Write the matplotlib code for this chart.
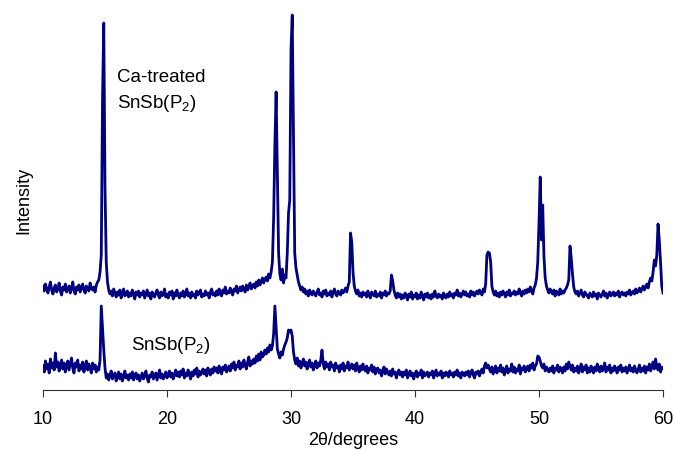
import matplotlib.pyplot as plt
import numpy as np

plt.rcParams['font.family'] = ['Liberation Sans', 'DejaVu Sans']
plt.rcParams['mathtext.fontset'] = 'custom'
plt.rcParams['mathtext.rm'] = 'Liberation Sans'

# 2theta grid, 0.1 deg steps from 10 to 60
two_theta = np.round(np.arange(100, 601) / 10, 1)

# Ca-treated SnSb(P2), intensity (a.u.), one row per degree
ca_treated = [
    104, 99, 106, 101, 97, 103, 108, 100, 96, 102,
    105, 98, 101, 107, 99, 95, 103, 100, 106, 98,
    101, 104, 97, 102, 108, 99, 96, 103, 100, 105,
    98, 102, 106, 100, 97, 104, 101, 99, 107, 102,
    100, 103, 98, 105, 108, 110, 118, 135, 290, 367,
    203, 128, 108, 100, 96, 99, 94, 101, 97, 93,
    98, 95, 100, 92, 97, 101, 94, 96, 99, 93,
    97, 94, 100, 96, 91, 98, 95, 99, 93, 97,
    95, 99, 92, 96, 100, 94, 97, 91, 98, 95,
    93, 97, 100, 95, 92, 98, 94, 96, 101, 93,
    96, 92, 98, 95, 99, 91, 97, 94, 100, 95,
    92, 97, 94, 99, 93, 96, 101, 94, 97, 92,
    98, 94, 96, 92, 99, 95, 97, 100, 93, 96,
    94, 99, 95, 97, 92, 98, 101, 95, 97, 94,
    99, 95, 101, 96, 94, 100, 97, 103, 96, 99,
    97, 102, 98, 95, 101, 99, 104, 97, 100, 103,
    99, 104, 101, 98, 105, 100, 103, 107, 101, 104,
    106, 102, 108, 104, 110, 105, 109, 112, 107, 111,
    113, 109, 116, 112, 118, 128, 172, 245, 298, 218,
    137, 116, 110, 121, 107, 115, 112, 137, 177, 190,
    340, 375, 260, 137, 122, 115, 108, 104, 100, 103,
    98, 101, 96, 99, 94, 100, 97, 95, 99, 96,
    94, 98, 101, 95, 97, 93, 99, 96, 100, 94,
    97, 95, 99, 93, 98, 101, 96, 94, 99, 97,
    95, 100, 97, 99, 102, 98, 104, 108, 157, 148,
    118, 104, 99, 96, 100, 94, 97, 93, 98, 95,
    97, 93, 99, 95, 92, 98, 96, 94, 99, 93,
    96, 94, 98, 92, 97, 95, 99, 94, 97, 96,
    99, 115, 109, 100, 95, 92, 97, 93, 96, 91,
    95, 92, 97, 94, 90, 96, 93, 98, 91, 95,
    93, 97, 91, 95, 92, 98, 94, 90, 96, 93,
    97, 92, 95, 91, 96, 93, 99, 94, 92, 96,
    93, 95, 91, 97, 94, 92, 96, 93, 98, 94,
    96, 92, 97, 95, 100, 94, 97, 93, 96, 99,
    95, 98, 94, 96, 93, 99, 95, 98, 94, 97,
    99, 96, 100, 97, 95, 101, 98, 106, 135, 138,
    137, 128, 104, 98, 95, 99, 94, 97, 93, 98,
    95, 99, 96, 93, 98, 95, 100, 94, 97, 96,
    99, 95, 98, 96, 101, 97, 94, 99, 96, 100,
    97, 101, 98, 103, 99, 96, 102, 105, 112, 128,
    168, 213, 150, 185, 133, 112, 104, 100, 97, 101,
    98, 96, 100, 94, 99, 97, 95, 101, 96, 99,
    97, 100, 102, 105, 110, 144, 132, 116, 103, 98,
    96, 99, 94, 97, 100, 95, 93, 98, 96, 94,
    92, 97, 95, 93, 98, 94, 96, 91, 97, 95,
    93, 96, 99, 94, 97, 92, 95, 98, 94, 96,
    98, 94, 97, 95, 99, 93, 96, 98, 95, 97,
    94, 98, 96, 100, 95, 97, 99, 96, 101, 97,
    99, 102, 98, 101, 104, 100, 103, 106, 102, 108,
    112, 109, 118, 130, 124, 135, 166, 150, 128, 104,
    97,
]

# untreated SnSb(P2)
untreated = [
    24, 18, 29, 21, 26, 17, 31, 22, 27, 20,
    37, 23, 28, 19, 25, 30, 21, 27, 18, 24,
    29, 20, 26, 32, 22, 17, 27, 23, 30, 19,
    25, 21, 28, 18, 24, 29, 20, 26, 22, 17,
    27, 21, 25, 18, 23, 20, 30, 84, 62, 40,
    22, 12, 16, 10, 15, 19, 11, 14, 17, 9,
    14, 18, 11, 16, 9, 13, 19, 12, 15, 10,
    16, 12, 18, 10, 14, 17, 11, 15, 9, 13,
    17, 11, 14, 19, 12, 8, 15, 13, 18, 11,
    14, 17, 10, 15, 20, 12, 16, 11, 14, 18,
    12, 16, 19, 13, 17, 11, 15, 20, 14, 18,
    13, 19, 15, 21, 12, 17, 14, 20, 16, 11,
    18, 14, 20, 16, 22, 13, 19, 15, 17, 21,
    16, 20, 14, 22, 18, 15, 21, 17, 23, 19,
    22, 17, 24, 19, 16, 23, 20, 25, 18, 21,
    24, 19, 26, 22, 28, 20, 25, 23, 29, 21,
    27, 23, 30, 25, 21, 28, 33, 24, 29, 26,
    31, 27, 34, 29, 36, 30, 38, 33, 35, 40,
    36, 42, 38, 45, 40, 44, 56, 84, 62, 41,
    36, 32, 38, 35, 41, 45, 48, 52, 60, 58,
    60, 54, 38, 30, 26, 32, 24, 29, 22, 27,
    31, 24, 28, 21, 26, 30, 23, 27, 20, 25,
    29, 22, 27, 24, 30, 40, 26, 21, 28, 23,
    26, 20, 28, 23, 25, 19, 27, 22, 24, 18,
    25, 21, 27, 19, 24, 22, 28, 20, 23, 26,
    21, 25, 19, 27, 22, 18, 24, 20, 26, 21,
    19, 24, 17, 22, 20, 25, 18, 23, 16, 21,
    22, 17, 20, 14, 19, 23, 16, 21, 18, 15,
    19, 14, 21, 16, 18, 12, 17, 20, 15, 18,
    13, 18, 15, 20, 12, 16, 19, 14, 17, 11,
    16, 19, 13, 17, 15, 20, 12, 18, 14, 16,
    18, 13, 17, 15, 19, 12, 16, 20, 14, 17,
    15, 19, 12, 17, 14, 18, 16, 13, 19, 15,
    17, 13, 18, 15, 20, 14, 17, 12, 18, 16,
    14, 18, 15, 19, 13, 17, 20, 15, 12, 18,
    16, 19, 14, 18, 21, 17, 24, 27, 22, 25,
    21, 18, 23, 16, 20, 24, 17, 22, 19, 25,
    18, 22, 15, 20, 24, 17, 21, 19, 26, 18,
    23, 17, 21, 19, 25, 16, 22, 20, 24, 18,
    21, 24, 19, 25, 22, 27, 20, 24, 26, 34,
    33, 29, 24, 22, 26, 19, 23, 21, 18, 22,
    19, 24, 17, 22, 20, 25, 18, 23, 21, 17,
    23, 19, 26, 21, 28, 24, 20, 25, 18, 22,
    19, 24, 17, 21, 26, 18, 23, 20, 25, 17,
    22, 18, 24, 20, 17, 23, 19, 26, 21, 18,
    24, 19, 22, 27, 18, 23, 20, 25, 17, 22,
    19, 24, 21, 17, 23, 20, 25, 18, 22, 19,
    23, 17, 21, 25, 19, 22, 18, 24, 20, 17,
    21, 25, 18, 22, 19, 24, 17, 23, 20, 26,
    19, 23, 28, 21, 31, 24, 20, 26, 18, 23,
    22,
]

x_ticks = [10, 20, 30, 40, 50, 60]

fig = plt.figure(figsize=(6.74, 4.5), dpi=100)
ax = fig.add_axes([43 / 674, 60 / 450, 620 / 674, 380 / 450])

ax.plot(two_theta, ca_treated, color='#000080', lw=2.0)
ax.plot(two_theta, untreated, color='#000080', lw=2.0)

ax.text(16.0, 312, 'Ca-treated', fontsize=13.5, va='center')
ax.text(16.0, 287, r'SnSb(P$_2$)', fontsize=13.5, va='center')
ax.text(17.1, 44, r'SnSb(P$_2$)', fontsize=13.5, va='center')

ax.set_xlim(10, 60)
ax.set_ylim(0, 380)
ax.set_xticks(x_ticks)
ax.set_yticks([])
for s in ['top', 'right', 'left']:
    ax.spines[s].set_visible(False)
ax.spines['bottom'].set_color('#333333')
ax.tick_params(axis='x', direction='out', length=5, color='#333333',
               labelsize=13, pad=10)
ax.set_xlabel('2θ/degrees', fontsize=13, labelpad=3)
ax.set_ylabel('Intensity', fontsize=13, labelpad=8)

fig.savefig('out.png', dpi=100)
